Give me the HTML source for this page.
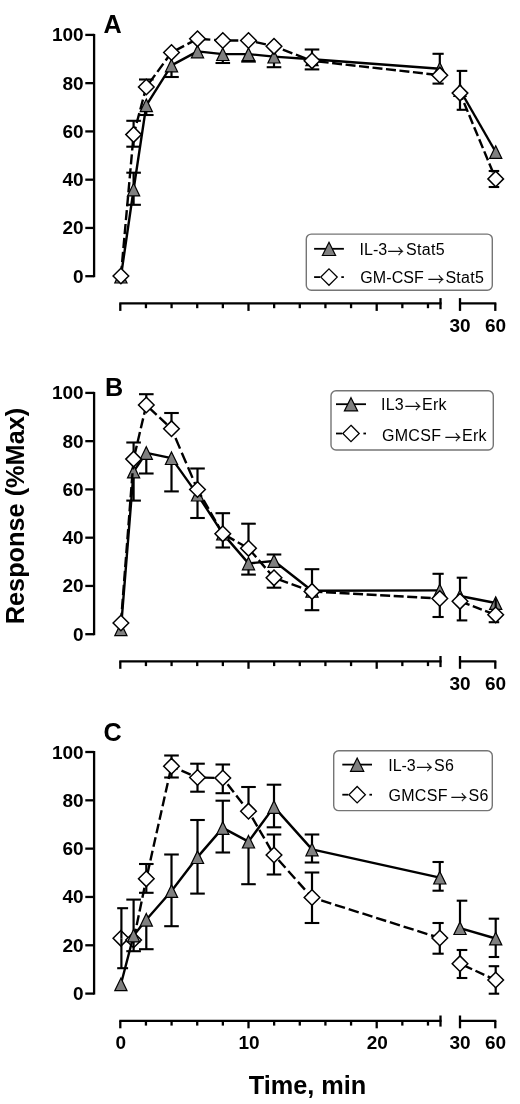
<!DOCTYPE html>
<html lang="en"><head><meta charset="utf-8"><title>Response time course</title>
<style>html,body{margin:0;padding:0;background:#fff}svg{display:block;will-change:transform}text{font-family:'Liberation Sans', Arial, Helvetica, sans-serif;fill:#000}</style>
</head><body>
<svg width="520" height="1104" viewBox="0 0 520 1104">
<rect width="520" height="1104" fill="#fff"/>
<line x1="94.1" y1="33.9" x2="94.1" y2="277.2" stroke="#000" stroke-width="2.3"/>
<line x1="85.3" y1="276.20" x2="94.1" y2="276.20" stroke="#000" stroke-width="2.3"/>
<text x="83.6" y="282.70" text-anchor="end" font-size="19" font-weight="bold">0</text>
<line x1="85.3" y1="227.94" x2="94.1" y2="227.94" stroke="#000" stroke-width="2.3"/>
<text x="83.6" y="234.44" text-anchor="end" font-size="19" font-weight="bold">20</text>
<line x1="85.3" y1="179.68" x2="94.1" y2="179.68" stroke="#000" stroke-width="2.3"/>
<text x="83.6" y="186.18" text-anchor="end" font-size="19" font-weight="bold">40</text>
<line x1="85.3" y1="131.42" x2="94.1" y2="131.42" stroke="#000" stroke-width="2.3"/>
<text x="83.6" y="137.92" text-anchor="end" font-size="19" font-weight="bold">60</text>
<line x1="85.3" y1="83.16" x2="94.1" y2="83.16" stroke="#000" stroke-width="2.3"/>
<text x="83.6" y="89.66" text-anchor="end" font-size="19" font-weight="bold">80</text>
<line x1="85.3" y1="34.90" x2="94.1" y2="34.90" stroke="#000" stroke-width="2.3"/>
<text x="83.6" y="41.40" text-anchor="end" font-size="19" font-weight="bold">100</text>
<line x1="119.3" y1="303.4" x2="441.5" y2="303.4" stroke="#000" stroke-width="2.3"/>
<line x1="120.30" y1="303.4" x2="120.30" y2="310.9" stroke="#000" stroke-width="2.3"/>
<line x1="145.94" y1="303.4" x2="145.94" y2="308.2" stroke="#000" stroke-width="2.3"/>
<line x1="171.58" y1="303.4" x2="171.58" y2="308.2" stroke="#000" stroke-width="2.3"/>
<line x1="197.22" y1="303.4" x2="197.22" y2="308.2" stroke="#000" stroke-width="2.3"/>
<line x1="222.86" y1="303.4" x2="222.86" y2="308.2" stroke="#000" stroke-width="2.3"/>
<line x1="248.50" y1="303.4" x2="248.50" y2="310.9" stroke="#000" stroke-width="2.3"/>
<line x1="274.14" y1="303.4" x2="274.14" y2="308.2" stroke="#000" stroke-width="2.3"/>
<line x1="299.78" y1="303.4" x2="299.78" y2="308.2" stroke="#000" stroke-width="2.3"/>
<line x1="325.42" y1="303.4" x2="325.42" y2="308.2" stroke="#000" stroke-width="2.3"/>
<line x1="351.06" y1="303.4" x2="351.06" y2="308.2" stroke="#000" stroke-width="2.3"/>
<line x1="376.70" y1="303.4" x2="376.70" y2="310.9" stroke="#000" stroke-width="2.3"/>
<line x1="402.34" y1="303.4" x2="402.34" y2="308.2" stroke="#000" stroke-width="2.3"/>
<line x1="427.98" y1="303.4" x2="427.98" y2="308.2" stroke="#000" stroke-width="2.3"/>
<line x1="440.5" y1="298.09999999999997" x2="440.5" y2="309.2" stroke="#000" stroke-width="2.3"/>
<line x1="459" y1="303.4" x2="496.3" y2="303.4" stroke="#000" stroke-width="2.3"/>
<line x1="460" y1="298.09999999999997" x2="460" y2="310.9" stroke="#000" stroke-width="2.3"/>
<line x1="495.3" y1="303.4" x2="495.3" y2="310.9" stroke="#000" stroke-width="2.3"/>
<text x="460" y="331.79999999999995" text-anchor="middle" font-size="19" font-weight="bold">30</text>
<text x="495.5" y="331.79999999999995" text-anchor="middle" font-size="19" font-weight="bold">60</text>
<text x="103.6" y="33.0" font-size="25.2" font-weight="bold">A</text>
<polyline points="120.90,276.60 133.60,189.50 146.30,105.30 171.50,65.40 197.50,51.40 222.80,54.10 248.50,54.10 274.00,56.60 312.00,59.30 439.80,68.80" fill="none" stroke="#000" stroke-width="2.4" stroke-linejoin="round"/>
<polyline points="460.00,90.00 495.70,152.00" fill="none" stroke="#000" stroke-width="2.4" stroke-linejoin="round"/>
<line x1="133.60" y1="172.70" x2="133.60" y2="189.50" stroke="#000" stroke-width="2.2"/><line x1="126.30" y1="172.70" x2="140.90" y2="172.70" stroke="#000" stroke-width="2.1"/>
<line x1="133.60" y1="204.80" x2="133.60" y2="189.50" stroke="#000" stroke-width="2.2"/><line x1="126.30" y1="204.80" x2="140.90" y2="204.80" stroke="#000" stroke-width="2.1"/>
<line x1="146.30" y1="115.00" x2="146.30" y2="105.30" stroke="#000" stroke-width="2.2"/><line x1="139.00" y1="115.00" x2="153.60" y2="115.00" stroke="#000" stroke-width="2.1"/>
<line x1="171.50" y1="77.00" x2="171.50" y2="65.40" stroke="#000" stroke-width="2.2"/><line x1="164.20" y1="77.00" x2="178.80" y2="77.00" stroke="#000" stroke-width="2.1"/>
<line x1="222.80" y1="63.00" x2="222.80" y2="54.10" stroke="#000" stroke-width="2.2"/><line x1="215.50" y1="63.00" x2="230.10" y2="63.00" stroke="#000" stroke-width="2.1"/>
<line x1="248.50" y1="61.60" x2="248.50" y2="54.10" stroke="#000" stroke-width="2.2"/><line x1="241.20" y1="61.60" x2="255.80" y2="61.60" stroke="#000" stroke-width="2.1"/>
<line x1="274.00" y1="67.20" x2="274.00" y2="56.60" stroke="#000" stroke-width="2.2"/><line x1="266.70" y1="67.20" x2="281.30" y2="67.20" stroke="#000" stroke-width="2.1"/>
<line x1="312.00" y1="49.50" x2="312.00" y2="59.30" stroke="#000" stroke-width="2.2"/><line x1="304.70" y1="49.50" x2="319.30" y2="49.50" stroke="#000" stroke-width="2.1"/>
<line x1="312.00" y1="69.40" x2="312.00" y2="59.30" stroke="#000" stroke-width="2.2"/><line x1="304.70" y1="69.40" x2="319.30" y2="69.40" stroke="#000" stroke-width="2.1"/>
<line x1="439.80" y1="53.80" x2="439.80" y2="68.80" stroke="#000" stroke-width="2.2"/><line x1="432.50" y1="53.80" x2="443.70" y2="53.80" stroke="#000" stroke-width="2.1"/>
<line x1="460.00" y1="70.90" x2="460.00" y2="90.00" stroke="#000" stroke-width="2.2"/><line x1="456.70" y1="70.90" x2="467.30" y2="70.90" stroke="#000" stroke-width="2.1"/>
<line x1="460.00" y1="109.80" x2="460.00" y2="90.00" stroke="#000" stroke-width="2.2"/><line x1="456.70" y1="109.80" x2="467.30" y2="109.80" stroke="#000" stroke-width="2.1"/>
<polygon points="120.90,270.40 127.00,283.00 114.80,283.00" fill="#808080" stroke="#000" stroke-width="1.2" stroke-linejoin="miter"/>
<polygon points="133.60,183.30 139.70,195.90 127.50,195.90" fill="#808080" stroke="#000" stroke-width="1.2" stroke-linejoin="miter"/>
<polygon points="146.30,99.10 152.40,111.70 140.20,111.70" fill="#808080" stroke="#000" stroke-width="1.2" stroke-linejoin="miter"/>
<polygon points="171.50,59.20 177.60,71.80 165.40,71.80" fill="#808080" stroke="#000" stroke-width="1.2" stroke-linejoin="miter"/>
<polygon points="197.50,45.20 203.60,57.80 191.40,57.80" fill="#808080" stroke="#000" stroke-width="1.2" stroke-linejoin="miter"/>
<polygon points="222.80,47.90 228.90,60.50 216.70,60.50" fill="#808080" stroke="#000" stroke-width="1.2" stroke-linejoin="miter"/>
<polygon points="248.50,47.90 254.60,60.50 242.40,60.50" fill="#808080" stroke="#000" stroke-width="1.2" stroke-linejoin="miter"/>
<polygon points="274.00,50.40 280.10,63.00 267.90,63.00" fill="#808080" stroke="#000" stroke-width="1.2" stroke-linejoin="miter"/>
<polygon points="312.00,53.10 318.10,65.70 305.90,65.70" fill="#808080" stroke="#000" stroke-width="1.2" stroke-linejoin="miter"/>
<polygon points="439.80,62.60 445.90,75.20 433.70,75.20" fill="#808080" stroke="#000" stroke-width="1.2" stroke-linejoin="miter"/>
<polygon points="460.00,83.80 466.10,96.40 453.90,96.40" fill="#808080" stroke="#000" stroke-width="1.2" stroke-linejoin="miter"/>
<polygon points="495.70,145.80 501.80,158.40 489.60,158.40" fill="#808080" stroke="#000" stroke-width="1.2" stroke-linejoin="miter"/>
<line x1="120.90" y1="276.00" x2="133.60" y2="134.60" stroke="#000" stroke-width="2.4" stroke-dasharray="10.2 3.8" stroke-dashoffset="0.00"/><line x1="133.60" y1="134.60" x2="146.30" y2="87.00" stroke="#000" stroke-width="2.4" stroke-dasharray="10.2 3.8" stroke-dashoffset="1.97"/><line x1="146.30" y1="87.00" x2="171.50" y2="52.50" stroke="#000" stroke-width="2.4" stroke-dasharray="10.2 3.8" stroke-dashoffset="9.23"/><line x1="171.50" y1="52.50" x2="197.50" y2="38.80" stroke="#000" stroke-width="2.4" stroke-dasharray="10.2 3.8" stroke-dashoffset="9.96"/><line x1="197.50" y1="38.80" x2="222.80" y2="40.50" stroke="#000" stroke-width="2.4" stroke-dasharray="10.2 3.8" stroke-dashoffset="11.35"/><line x1="222.80" y1="40.50" x2="248.50" y2="40.50" stroke="#000" stroke-width="2.4" stroke-dasharray="10.2 3.8" stroke-dashoffset="8.70"/><line x1="248.50" y1="40.50" x2="274.00" y2="46.30" stroke="#000" stroke-width="2.4" stroke-dasharray="10.2 3.8" stroke-dashoffset="6.40"/><line x1="274.00" y1="46.30" x2="312.00" y2="60.80" stroke="#000" stroke-width="2.4" stroke-dasharray="10.2 3.8" stroke-dashoffset="4.55"/><line x1="312.00" y1="60.80" x2="439.80" y2="75.20" stroke="#000" stroke-width="2.4" stroke-dasharray="10 3.55" stroke-dashoffset="6.85"/>
<line x1="460.00" y1="93.10" x2="495.70" y2="178.90" stroke="#000" stroke-width="2.4" stroke-dasharray="9.6 3.5" stroke-dashoffset="2.40"/>
<line x1="133.60" y1="120.80" x2="133.60" y2="134.60" stroke="#000" stroke-width="2.2"/><line x1="126.30" y1="120.80" x2="140.90" y2="120.80" stroke="#000" stroke-width="2.1"/>
<line x1="133.60" y1="146.70" x2="133.60" y2="134.60" stroke="#000" stroke-width="2.2"/><line x1="126.30" y1="146.70" x2="140.90" y2="146.70" stroke="#000" stroke-width="2.1"/>
<line x1="146.30" y1="79.50" x2="146.30" y2="87.00" stroke="#000" stroke-width="2.2"/><line x1="139.00" y1="79.50" x2="153.60" y2="79.50" stroke="#000" stroke-width="2.1"/>
<line x1="439.80" y1="83.60" x2="439.80" y2="75.20" stroke="#000" stroke-width="2.2"/><line x1="432.50" y1="83.60" x2="443.70" y2="83.60" stroke="#000" stroke-width="2.1"/>
<line x1="495.70" y1="171.00" x2="495.70" y2="178.90" stroke="#000" stroke-width="2.2"/><line x1="488.70" y1="171.00" x2="499.20" y2="171.00" stroke="#000" stroke-width="2.1"/>
<line x1="495.70" y1="187.00" x2="495.70" y2="178.90" stroke="#000" stroke-width="2.2"/><line x1="488.70" y1="187.00" x2="499.20" y2="187.00" stroke="#000" stroke-width="2.1"/>
<polygon points="120.90,268.20 128.70,276.00 120.90,283.80 113.10,276.00" fill="#fff" stroke="#000" stroke-width="1.5" stroke-linejoin="miter"/>
<polygon points="133.60,126.80 141.40,134.60 133.60,142.40 125.80,134.60" fill="#fff" stroke="#000" stroke-width="1.5" stroke-linejoin="miter"/>
<polygon points="146.30,79.20 154.10,87.00 146.30,94.80 138.50,87.00" fill="#fff" stroke="#000" stroke-width="1.5" stroke-linejoin="miter"/>
<polygon points="171.50,44.70 179.30,52.50 171.50,60.30 163.70,52.50" fill="#fff" stroke="#000" stroke-width="1.5" stroke-linejoin="miter"/>
<polygon points="197.50,31.00 205.30,38.80 197.50,46.60 189.70,38.80" fill="#fff" stroke="#000" stroke-width="1.5" stroke-linejoin="miter"/>
<polygon points="222.80,32.70 230.60,40.50 222.80,48.30 215.00,40.50" fill="#fff" stroke="#000" stroke-width="1.5" stroke-linejoin="miter"/>
<polygon points="248.50,32.70 256.30,40.50 248.50,48.30 240.70,40.50" fill="#fff" stroke="#000" stroke-width="1.5" stroke-linejoin="miter"/>
<polygon points="274.00,38.50 281.80,46.30 274.00,54.10 266.20,46.30" fill="#fff" stroke="#000" stroke-width="1.5" stroke-linejoin="miter"/>
<polygon points="312.00,53.00 319.80,60.80 312.00,68.60 304.20,60.80" fill="#fff" stroke="#000" stroke-width="1.5" stroke-linejoin="miter"/>
<polygon points="439.80,67.40 447.60,75.20 439.80,83.00 432.00,75.20" fill="#fff" stroke="#000" stroke-width="1.5" stroke-linejoin="miter"/>
<polygon points="460.00,85.30 467.80,93.10 460.00,100.90 452.20,93.10" fill="#fff" stroke="#000" stroke-width="1.5" stroke-linejoin="miter"/>
<polygon points="495.70,171.10 503.50,178.90 495.70,186.70 487.90,178.90" fill="#fff" stroke="#000" stroke-width="1.5" stroke-linejoin="miter"/>
<rect x="306.3" y="234.1" width="186.0" height="56.20000000000002" rx="5" ry="5" fill="#fff" stroke="#757575" stroke-width="1.4"/>
<line x1="314.1" y1="248.8" x2="343.9" y2="248.8" stroke="#000" stroke-width="1.8"/>
<polygon points="329.00,242.30 335.60,255.50 322.40,255.50" fill="#808080" stroke="#000" stroke-width="1.2" stroke-linejoin="miter"/>
<line x1="314.1" y1="277.1" x2="320.1" y2="277.1" stroke="#000" stroke-width="1.8"/>
<line x1="341.29999999999995" y1="277.1" x2="343.9" y2="277.1" stroke="#000" stroke-width="1.8"/>
<polygon points="329.00,268.90 337.20,277.10 329.00,285.30 320.80,277.10" fill="#fff" stroke="#000" stroke-width="1.3" stroke-linejoin="miter"/>
<text y="255" font-size="16" letter-spacing="0.3"><tspan x="359.6" letter-spacing="0">IL-3</tspan><tspan x="387.8" dy="1.8" font-family="'Noto Serif CJK SC',serif" font-size="16" stroke="#000" stroke-width="0.35" letter-spacing="0">→</tspan><tspan x="406.0" dy="-1.8">Stat5</tspan></text>
<text y="282.9" font-size="16" letter-spacing="0.3"><tspan x="360.3" letter-spacing="0.1">GM-CSF</tspan><tspan x="428" dy="1.8" font-family="'Noto Serif CJK SC',serif" font-size="16" stroke="#000" stroke-width="0.35" letter-spacing="0">→</tspan><tspan x="445.4" dy="-1.8">Stat5</tspan></text>
<line x1="94.1" y1="391.9" x2="94.1" y2="635.2" stroke="#000" stroke-width="2.3"/>
<line x1="85.3" y1="634.20" x2="94.1" y2="634.20" stroke="#000" stroke-width="2.3"/>
<text x="83.6" y="640.70" text-anchor="end" font-size="19" font-weight="bold">0</text>
<line x1="85.3" y1="585.94" x2="94.1" y2="585.94" stroke="#000" stroke-width="2.3"/>
<text x="83.6" y="592.44" text-anchor="end" font-size="19" font-weight="bold">20</text>
<line x1="85.3" y1="537.68" x2="94.1" y2="537.68" stroke="#000" stroke-width="2.3"/>
<text x="83.6" y="544.18" text-anchor="end" font-size="19" font-weight="bold">40</text>
<line x1="85.3" y1="489.42" x2="94.1" y2="489.42" stroke="#000" stroke-width="2.3"/>
<text x="83.6" y="495.92" text-anchor="end" font-size="19" font-weight="bold">60</text>
<line x1="85.3" y1="441.16" x2="94.1" y2="441.16" stroke="#000" stroke-width="2.3"/>
<text x="83.6" y="447.66" text-anchor="end" font-size="19" font-weight="bold">80</text>
<line x1="85.3" y1="392.90" x2="94.1" y2="392.90" stroke="#000" stroke-width="2.3"/>
<text x="83.6" y="399.40" text-anchor="end" font-size="19" font-weight="bold">100</text>
<line x1="119.3" y1="661.3" x2="441.5" y2="661.3" stroke="#000" stroke-width="2.3"/>
<line x1="120.30" y1="661.3" x2="120.30" y2="668.8" stroke="#000" stroke-width="2.3"/>
<line x1="145.94" y1="661.3" x2="145.94" y2="666.0999999999999" stroke="#000" stroke-width="2.3"/>
<line x1="171.58" y1="661.3" x2="171.58" y2="666.0999999999999" stroke="#000" stroke-width="2.3"/>
<line x1="197.22" y1="661.3" x2="197.22" y2="666.0999999999999" stroke="#000" stroke-width="2.3"/>
<line x1="222.86" y1="661.3" x2="222.86" y2="666.0999999999999" stroke="#000" stroke-width="2.3"/>
<line x1="248.50" y1="661.3" x2="248.50" y2="668.8" stroke="#000" stroke-width="2.3"/>
<line x1="274.14" y1="661.3" x2="274.14" y2="666.0999999999999" stroke="#000" stroke-width="2.3"/>
<line x1="299.78" y1="661.3" x2="299.78" y2="666.0999999999999" stroke="#000" stroke-width="2.3"/>
<line x1="325.42" y1="661.3" x2="325.42" y2="666.0999999999999" stroke="#000" stroke-width="2.3"/>
<line x1="351.06" y1="661.3" x2="351.06" y2="666.0999999999999" stroke="#000" stroke-width="2.3"/>
<line x1="376.70" y1="661.3" x2="376.70" y2="668.8" stroke="#000" stroke-width="2.3"/>
<line x1="402.34" y1="661.3" x2="402.34" y2="666.0999999999999" stroke="#000" stroke-width="2.3"/>
<line x1="427.98" y1="661.3" x2="427.98" y2="666.0999999999999" stroke="#000" stroke-width="2.3"/>
<line x1="440.5" y1="656.0" x2="440.5" y2="667.0999999999999" stroke="#000" stroke-width="2.3"/>
<line x1="459" y1="661.3" x2="496.3" y2="661.3" stroke="#000" stroke-width="2.3"/>
<line x1="460" y1="656.0" x2="460" y2="668.8" stroke="#000" stroke-width="2.3"/>
<line x1="495.3" y1="661.3" x2="495.3" y2="668.8" stroke="#000" stroke-width="2.3"/>
<text x="460" y="689.6999999999999" text-anchor="middle" font-size="19" font-weight="bold">30</text>
<text x="495.5" y="689.6999999999999" text-anchor="middle" font-size="19" font-weight="bold">60</text>
<text x="105.0" y="395.7" font-size="25.2" font-weight="bold">B</text>
<polyline points="120.90,629.30 133.60,471.50 146.30,452.90 171.50,458.10 197.50,494.60 222.80,533.60 248.50,563.40 274.00,561.00 312.00,590.80 439.80,590.40" fill="none" stroke="#000" stroke-width="2.4" stroke-linejoin="round"/>
<polyline points="460.00,596.00 495.70,603.00" fill="none" stroke="#000" stroke-width="2.4" stroke-linejoin="round"/>
<line x1="133.60" y1="500.60" x2="133.60" y2="471.50" stroke="#000" stroke-width="2.2"/><line x1="126.30" y1="500.60" x2="140.90" y2="500.60" stroke="#000" stroke-width="2.1"/>
<line x1="146.30" y1="473.50" x2="146.30" y2="452.90" stroke="#000" stroke-width="2.2"/><line x1="139.00" y1="473.50" x2="153.60" y2="473.50" stroke="#000" stroke-width="2.1"/>
<line x1="171.50" y1="491.40" x2="171.50" y2="458.10" stroke="#000" stroke-width="2.2"/><line x1="164.20" y1="491.40" x2="178.80" y2="491.40" stroke="#000" stroke-width="2.1"/>
<line x1="197.50" y1="518.00" x2="197.50" y2="494.60" stroke="#000" stroke-width="2.2"/><line x1="190.20" y1="518.00" x2="204.80" y2="518.00" stroke="#000" stroke-width="2.1"/>
<line x1="222.80" y1="547.50" x2="222.80" y2="533.60" stroke="#000" stroke-width="2.2"/><line x1="215.50" y1="547.50" x2="230.10" y2="547.50" stroke="#000" stroke-width="2.1"/>
<line x1="248.50" y1="574.60" x2="248.50" y2="563.40" stroke="#000" stroke-width="2.2"/><line x1="241.20" y1="574.60" x2="255.80" y2="574.60" stroke="#000" stroke-width="2.1"/>
<line x1="274.00" y1="554.50" x2="274.00" y2="561.00" stroke="#000" stroke-width="2.2"/><line x1="266.70" y1="554.50" x2="281.30" y2="554.50" stroke="#000" stroke-width="2.1"/>
<line x1="312.00" y1="569.20" x2="312.00" y2="590.80" stroke="#000" stroke-width="2.2"/><line x1="304.70" y1="569.20" x2="319.30" y2="569.20" stroke="#000" stroke-width="2.1"/>
<line x1="312.00" y1="610.20" x2="312.00" y2="590.80" stroke="#000" stroke-width="2.2"/><line x1="304.70" y1="610.20" x2="319.30" y2="610.20" stroke="#000" stroke-width="2.1"/>
<line x1="439.80" y1="573.80" x2="439.80" y2="590.40" stroke="#000" stroke-width="2.2"/><line x1="432.50" y1="573.80" x2="443.70" y2="573.80" stroke="#000" stroke-width="2.1"/>
<line x1="460.00" y1="577.70" x2="460.00" y2="596.00" stroke="#000" stroke-width="2.2"/><line x1="456.70" y1="577.70" x2="467.30" y2="577.70" stroke="#000" stroke-width="2.1"/>
<polygon points="120.90,623.10 127.00,635.70 114.80,635.70" fill="#808080" stroke="#000" stroke-width="1.2" stroke-linejoin="miter"/>
<polygon points="133.60,465.30 139.70,477.90 127.50,477.90" fill="#808080" stroke="#000" stroke-width="1.2" stroke-linejoin="miter"/>
<polygon points="146.30,446.70 152.40,459.30 140.20,459.30" fill="#808080" stroke="#000" stroke-width="1.2" stroke-linejoin="miter"/>
<polygon points="171.50,451.90 177.60,464.50 165.40,464.50" fill="#808080" stroke="#000" stroke-width="1.2" stroke-linejoin="miter"/>
<polygon points="197.50,488.40 203.60,501.00 191.40,501.00" fill="#808080" stroke="#000" stroke-width="1.2" stroke-linejoin="miter"/>
<polygon points="222.80,527.40 228.90,540.00 216.70,540.00" fill="#808080" stroke="#000" stroke-width="1.2" stroke-linejoin="miter"/>
<polygon points="248.50,557.20 254.60,569.80 242.40,569.80" fill="#808080" stroke="#000" stroke-width="1.2" stroke-linejoin="miter"/>
<polygon points="274.00,554.80 280.10,567.40 267.90,567.40" fill="#808080" stroke="#000" stroke-width="1.2" stroke-linejoin="miter"/>
<polygon points="312.00,584.60 318.10,597.20 305.90,597.20" fill="#808080" stroke="#000" stroke-width="1.2" stroke-linejoin="miter"/>
<polygon points="439.80,584.20 445.90,596.80 433.70,596.80" fill="#808080" stroke="#000" stroke-width="1.2" stroke-linejoin="miter"/>
<polygon points="460.00,589.80 466.10,602.40 453.90,602.40" fill="#808080" stroke="#000" stroke-width="1.2" stroke-linejoin="miter"/>
<polygon points="495.70,596.80 501.80,609.40 489.60,609.40" fill="#808080" stroke="#000" stroke-width="1.2" stroke-linejoin="miter"/>
<line x1="120.90" y1="623.00" x2="133.60" y2="459.10" stroke="#000" stroke-width="2.4" stroke-dasharray="10.2 3.8" stroke-dashoffset="0.00"/><line x1="133.60" y1="459.10" x2="146.30" y2="405.00" stroke="#000" stroke-width="2.4" stroke-dasharray="10.2 3.8" stroke-dashoffset="10.39"/><line x1="146.30" y1="405.00" x2="171.50" y2="428.70" stroke="#000" stroke-width="2.4" stroke-dasharray="10.2 3.8" stroke-dashoffset="9.96"/><line x1="171.50" y1="428.70" x2="197.50" y2="489.50" stroke="#000" stroke-width="2.4" stroke-dasharray="11.5 4.4" stroke-dashoffset="5.70"/><line x1="197.50" y1="489.50" x2="222.80" y2="533.80" stroke="#000" stroke-width="2.4" stroke-dasharray="10.2 3.8" stroke-dashoffset="1.83"/><line x1="222.80" y1="533.80" x2="248.50" y2="548.30" stroke="#000" stroke-width="2.4" stroke-dasharray="10.2 3.8" stroke-dashoffset="10.84"/><line x1="248.50" y1="548.30" x2="274.00" y2="577.80" stroke="#000" stroke-width="2.4" stroke-dasharray="10.2 3.8" stroke-dashoffset="12.35"/><line x1="274.00" y1="577.80" x2="312.00" y2="591.40" stroke="#000" stroke-width="2.4" stroke-dasharray="10.2 3.8" stroke-dashoffset="9.34"/><line x1="312.00" y1="591.40" x2="439.80" y2="598.50" stroke="#000" stroke-width="2.4" stroke-dasharray="10 3.55" stroke-dashoffset="13.05"/>
<line x1="460.00" y1="601.30" x2="495.70" y2="614.80" stroke="#000" stroke-width="2.4" stroke-dasharray="9.6 3.5" stroke-dashoffset="12.50"/>
<line x1="133.60" y1="442.50" x2="133.60" y2="459.10" stroke="#000" stroke-width="2.2"/><line x1="126.30" y1="442.50" x2="140.90" y2="442.50" stroke="#000" stroke-width="2.1"/>
<line x1="146.30" y1="394.20" x2="146.30" y2="405.00" stroke="#000" stroke-width="2.2"/><line x1="139.00" y1="394.20" x2="153.60" y2="394.20" stroke="#000" stroke-width="2.1"/>
<line x1="171.50" y1="413.00" x2="171.50" y2="428.70" stroke="#000" stroke-width="2.2"/><line x1="164.20" y1="413.00" x2="178.80" y2="413.00" stroke="#000" stroke-width="2.1"/>
<line x1="197.50" y1="468.50" x2="197.50" y2="489.50" stroke="#000" stroke-width="2.2"/><line x1="190.20" y1="468.50" x2="204.80" y2="468.50" stroke="#000" stroke-width="2.1"/>
<line x1="222.80" y1="513.20" x2="222.80" y2="533.80" stroke="#000" stroke-width="2.2"/><line x1="215.50" y1="513.20" x2="230.10" y2="513.20" stroke="#000" stroke-width="2.1"/>
<line x1="248.50" y1="523.70" x2="248.50" y2="548.30" stroke="#000" stroke-width="2.2"/><line x1="241.20" y1="523.70" x2="255.80" y2="523.70" stroke="#000" stroke-width="2.1"/>
<line x1="274.00" y1="587.70" x2="274.00" y2="577.80" stroke="#000" stroke-width="2.2"/><line x1="266.70" y1="587.70" x2="281.30" y2="587.70" stroke="#000" stroke-width="2.1"/>
<line x1="439.80" y1="617.00" x2="439.80" y2="598.50" stroke="#000" stroke-width="2.2"/><line x1="432.50" y1="617.00" x2="443.70" y2="617.00" stroke="#000" stroke-width="2.1"/>
<line x1="460.00" y1="620.40" x2="460.00" y2="601.30" stroke="#000" stroke-width="2.2"/><line x1="456.70" y1="620.40" x2="467.30" y2="620.40" stroke="#000" stroke-width="2.1"/>
<line x1="495.70" y1="622.20" x2="495.70" y2="614.60" stroke="#000" stroke-width="2.2"/><line x1="488.70" y1="622.20" x2="499.20" y2="622.20" stroke="#000" stroke-width="2.1"/>
<line x1="495.70" y1="598.50" x2="495.70" y2="614.60" stroke="#000" stroke-width="2.2"/><line x1="495.70" y1="598.50" x2="495.70" y2="598.50" stroke="#000" stroke-width="2.1"/>
<polygon points="120.90,615.20 128.70,623.00 120.90,630.80 113.10,623.00" fill="#fff" stroke="#000" stroke-width="1.5" stroke-linejoin="miter"/>
<polygon points="133.60,451.30 141.40,459.10 133.60,466.90 125.80,459.10" fill="#fff" stroke="#000" stroke-width="1.5" stroke-linejoin="miter"/>
<polygon points="146.30,397.20 154.10,405.00 146.30,412.80 138.50,405.00" fill="#fff" stroke="#000" stroke-width="1.5" stroke-linejoin="miter"/>
<polygon points="171.50,420.90 179.30,428.70 171.50,436.50 163.70,428.70" fill="#fff" stroke="#000" stroke-width="1.5" stroke-linejoin="miter"/>
<polygon points="197.50,481.70 205.30,489.50 197.50,497.30 189.70,489.50" fill="#fff" stroke="#000" stroke-width="1.5" stroke-linejoin="miter"/>
<polygon points="222.80,526.00 230.60,533.80 222.80,541.60 215.00,533.80" fill="#fff" stroke="#000" stroke-width="1.5" stroke-linejoin="miter"/>
<polygon points="248.50,540.50 256.30,548.30 248.50,556.10 240.70,548.30" fill="#fff" stroke="#000" stroke-width="1.5" stroke-linejoin="miter"/>
<polygon points="274.00,570.00 281.80,577.80 274.00,585.60 266.20,577.80" fill="#fff" stroke="#000" stroke-width="1.5" stroke-linejoin="miter"/>
<polygon points="312.00,583.60 319.80,591.40 312.00,599.20 304.20,591.40" fill="#fff" stroke="#000" stroke-width="1.5" stroke-linejoin="miter"/>
<polygon points="439.80,590.70 447.60,598.50 439.80,606.30 432.00,598.50" fill="#fff" stroke="#000" stroke-width="1.5" stroke-linejoin="miter"/>
<polygon points="460.00,593.50 467.80,601.30 460.00,609.10 452.20,601.30" fill="#fff" stroke="#000" stroke-width="1.5" stroke-linejoin="miter"/>
<polygon points="495.70,607.00 503.50,614.80 495.70,622.60 487.90,614.80" fill="#fff" stroke="#000" stroke-width="1.5" stroke-linejoin="miter"/>
<rect x="331.0" y="390.7" width="162.3" height="59.30000000000001" rx="5" ry="5" fill="#fff" stroke="#757575" stroke-width="1.4"/>
<line x1="336" y1="404.2" x2="366" y2="404.2" stroke="#000" stroke-width="1.8"/>
<polygon points="351.00,397.70 357.60,410.90 344.40,410.90" fill="#808080" stroke="#000" stroke-width="1.2" stroke-linejoin="miter"/>
<line x1="336" y1="433.5" x2="342" y2="433.5" stroke="#000" stroke-width="1.8"/>
<line x1="363.4" y1="433.5" x2="366" y2="433.5" stroke="#000" stroke-width="1.8"/>
<polygon points="351.00,425.30 359.20,433.50 351.00,441.70 342.80,433.50" fill="#fff" stroke="#000" stroke-width="1.3" stroke-linejoin="miter"/>
<text y="410.3" font-size="16" letter-spacing="0.3"><tspan x="380.9" letter-spacing="0.3">IL3</tspan><tspan x="405" dy="1.8" font-family="'Noto Serif CJK SC',serif" font-size="16" stroke="#000" stroke-width="0.35" letter-spacing="0">→</tspan><tspan x="422" dy="-1.8">Erk</tspan></text>
<text y="440.9" font-size="16" letter-spacing="0.3"><tspan x="382" letter-spacing="0.3">GMCSF</tspan><tspan x="445" dy="1.8" font-family="'Noto Serif CJK SC',serif" font-size="16" stroke="#000" stroke-width="0.35" letter-spacing="0">→</tspan><tspan x="462" dy="-1.8">Erk</tspan></text>
<line x1="94.1" y1="751.0" x2="94.1" y2="994.6" stroke="#000" stroke-width="2.3"/>
<line x1="85.3" y1="993.60" x2="94.1" y2="993.60" stroke="#000" stroke-width="2.3"/>
<text x="83.6" y="1000.10" text-anchor="end" font-size="19" font-weight="bold">0</text>
<line x1="85.3" y1="945.28" x2="94.1" y2="945.28" stroke="#000" stroke-width="2.3"/>
<text x="83.6" y="951.78" text-anchor="end" font-size="19" font-weight="bold">20</text>
<line x1="85.3" y1="896.96" x2="94.1" y2="896.96" stroke="#000" stroke-width="2.3"/>
<text x="83.6" y="903.46" text-anchor="end" font-size="19" font-weight="bold">40</text>
<line x1="85.3" y1="848.64" x2="94.1" y2="848.64" stroke="#000" stroke-width="2.3"/>
<text x="83.6" y="855.14" text-anchor="end" font-size="19" font-weight="bold">60</text>
<line x1="85.3" y1="800.32" x2="94.1" y2="800.32" stroke="#000" stroke-width="2.3"/>
<text x="83.6" y="806.82" text-anchor="end" font-size="19" font-weight="bold">80</text>
<line x1="85.3" y1="752.00" x2="94.1" y2="752.00" stroke="#000" stroke-width="2.3"/>
<text x="83.6" y="758.50" text-anchor="end" font-size="19" font-weight="bold">100</text>
<line x1="119.3" y1="1020.8" x2="441.5" y2="1020.8" stroke="#000" stroke-width="2.3"/>
<line x1="120.30" y1="1020.8" x2="120.30" y2="1028.3" stroke="#000" stroke-width="2.3"/>
<line x1="145.94" y1="1020.8" x2="145.94" y2="1025.6" stroke="#000" stroke-width="2.3"/>
<line x1="171.58" y1="1020.8" x2="171.58" y2="1025.6" stroke="#000" stroke-width="2.3"/>
<line x1="197.22" y1="1020.8" x2="197.22" y2="1025.6" stroke="#000" stroke-width="2.3"/>
<line x1="222.86" y1="1020.8" x2="222.86" y2="1025.6" stroke="#000" stroke-width="2.3"/>
<line x1="248.50" y1="1020.8" x2="248.50" y2="1028.3" stroke="#000" stroke-width="2.3"/>
<line x1="274.14" y1="1020.8" x2="274.14" y2="1025.6" stroke="#000" stroke-width="2.3"/>
<line x1="299.78" y1="1020.8" x2="299.78" y2="1025.6" stroke="#000" stroke-width="2.3"/>
<line x1="325.42" y1="1020.8" x2="325.42" y2="1025.6" stroke="#000" stroke-width="2.3"/>
<line x1="351.06" y1="1020.8" x2="351.06" y2="1025.6" stroke="#000" stroke-width="2.3"/>
<line x1="376.70" y1="1020.8" x2="376.70" y2="1028.3" stroke="#000" stroke-width="2.3"/>
<line x1="402.34" y1="1020.8" x2="402.34" y2="1025.6" stroke="#000" stroke-width="2.3"/>
<line x1="427.98" y1="1020.8" x2="427.98" y2="1025.6" stroke="#000" stroke-width="2.3"/>
<line x1="440.5" y1="1015.5" x2="440.5" y2="1026.6" stroke="#000" stroke-width="2.3"/>
<line x1="459" y1="1020.8" x2="496.3" y2="1020.8" stroke="#000" stroke-width="2.3"/>
<line x1="460" y1="1015.5" x2="460" y2="1028.3" stroke="#000" stroke-width="2.3"/>
<line x1="495.3" y1="1020.8" x2="495.3" y2="1028.3" stroke="#000" stroke-width="2.3"/>
<text x="120.80" y="1048.7" text-anchor="middle" font-size="19" font-weight="bold">0</text>
<text x="249.00" y="1048.7" text-anchor="middle" font-size="19" font-weight="bold">10</text>
<text x="377.20" y="1048.7" text-anchor="middle" font-size="19" font-weight="bold">20</text>
<text x="460" y="1048.7" text-anchor="middle" font-size="19" font-weight="bold">30</text>
<text x="495.5" y="1048.7" text-anchor="middle" font-size="19" font-weight="bold">60</text>
<text x="103.4" y="740.7" font-size="25.2" font-weight="bold">C</text>
<line x1="120.90" y1="938.30" x2="133.60" y2="940.00" stroke="#000" stroke-width="2.4" stroke-dasharray="10.2 3.8" stroke-dashoffset="0.00"/><line x1="133.60" y1="940.00" x2="146.30" y2="878.80" stroke="#000" stroke-width="2.4" stroke-dasharray="10.2 3.8" stroke-dashoffset="12.81"/><line x1="146.30" y1="878.80" x2="171.50" y2="766.20" stroke="#000" stroke-width="2.4" stroke-dasharray="9.8 4.1" stroke-dashoffset="8.95"/><line x1="171.50" y1="766.20" x2="197.50" y2="777.50" stroke="#000" stroke-width="2.4" stroke-dasharray="10 4" stroke-dashoffset="3.10"/><line x1="197.50" y1="777.50" x2="222.80" y2="778.00" stroke="#000" stroke-width="2.4" stroke-dasharray="10 4" stroke-dashoffset="7.00"/><line x1="222.80" y1="778.00" x2="248.50" y2="811.20" stroke="#000" stroke-width="2.4" stroke-dasharray="10.2 4" stroke-dashoffset="6.40"/><line x1="248.50" y1="811.20" x2="274.00" y2="855.00" stroke="#000" stroke-width="2.4" stroke-dasharray="10 4" stroke-dashoffset="6.50"/><line x1="274.00" y1="855.00" x2="312.00" y2="897.50" stroke="#000" stroke-width="2.4" stroke-dasharray="10.4 4.2" stroke-dashoffset="7.80"/><line x1="312.00" y1="897.50" x2="439.80" y2="938.00" stroke="#000" stroke-width="2.4" stroke-dasharray="10.5 3.9" stroke-dashoffset="4.70"/>
<line x1="460.00" y1="963.70" x2="495.70" y2="980.00" stroke="#000" stroke-width="2.4" stroke-dasharray="9.7 3.7" stroke-dashoffset="9.80"/>
<line x1="146.30" y1="864.00" x2="146.30" y2="878.80" stroke="#000" stroke-width="2.2"/><line x1="139.00" y1="864.00" x2="153.60" y2="864.00" stroke="#000" stroke-width="2.1"/>
<line x1="146.30" y1="892.80" x2="146.30" y2="878.80" stroke="#000" stroke-width="2.2"/><line x1="139.00" y1="892.80" x2="153.60" y2="892.80" stroke="#000" stroke-width="2.1"/>
<line x1="171.50" y1="755.50" x2="171.50" y2="766.20" stroke="#000" stroke-width="2.2"/><line x1="164.20" y1="755.50" x2="178.80" y2="755.50" stroke="#000" stroke-width="2.1"/>
<line x1="171.50" y1="777.50" x2="171.50" y2="766.20" stroke="#000" stroke-width="2.2"/><line x1="164.20" y1="777.50" x2="178.80" y2="777.50" stroke="#000" stroke-width="2.1"/>
<line x1="197.50" y1="763.70" x2="197.50" y2="777.50" stroke="#000" stroke-width="2.2"/><line x1="190.20" y1="763.70" x2="204.80" y2="763.70" stroke="#000" stroke-width="2.1"/>
<line x1="197.50" y1="791.70" x2="197.50" y2="777.50" stroke="#000" stroke-width="2.2"/><line x1="190.20" y1="791.70" x2="204.80" y2="791.70" stroke="#000" stroke-width="2.1"/>
<line x1="222.80" y1="764.50" x2="222.80" y2="778.00" stroke="#000" stroke-width="2.2"/><line x1="215.50" y1="764.50" x2="230.10" y2="764.50" stroke="#000" stroke-width="2.1"/>
<line x1="222.80" y1="793.20" x2="222.80" y2="778.00" stroke="#000" stroke-width="2.2"/><line x1="215.50" y1="793.20" x2="230.10" y2="793.20" stroke="#000" stroke-width="2.1"/>
<line x1="248.50" y1="787.00" x2="248.50" y2="811.20" stroke="#000" stroke-width="2.2"/><line x1="241.20" y1="787.00" x2="255.80" y2="787.00" stroke="#000" stroke-width="2.1"/>
<line x1="274.00" y1="834.50" x2="274.00" y2="855.00" stroke="#000" stroke-width="2.2"/><line x1="266.70" y1="834.50" x2="281.30" y2="834.50" stroke="#000" stroke-width="2.1"/>
<line x1="274.00" y1="874.50" x2="274.00" y2="855.00" stroke="#000" stroke-width="2.2"/><line x1="266.70" y1="874.50" x2="281.30" y2="874.50" stroke="#000" stroke-width="2.1"/>
<line x1="312.00" y1="872.50" x2="312.00" y2="897.50" stroke="#000" stroke-width="2.2"/><line x1="304.70" y1="872.50" x2="319.30" y2="872.50" stroke="#000" stroke-width="2.1"/>
<line x1="312.00" y1="923.00" x2="312.00" y2="897.50" stroke="#000" stroke-width="2.2"/><line x1="304.70" y1="923.00" x2="319.30" y2="923.00" stroke="#000" stroke-width="2.1"/>
<line x1="439.80" y1="923.00" x2="439.80" y2="938.00" stroke="#000" stroke-width="2.2"/><line x1="432.50" y1="923.00" x2="443.70" y2="923.00" stroke="#000" stroke-width="2.1"/>
<line x1="439.80" y1="953.70" x2="439.80" y2="938.00" stroke="#000" stroke-width="2.2"/><line x1="432.50" y1="953.70" x2="443.70" y2="953.70" stroke="#000" stroke-width="2.1"/>
<line x1="460.00" y1="950.00" x2="460.00" y2="963.70" stroke="#000" stroke-width="2.2"/><line x1="456.70" y1="950.00" x2="467.30" y2="950.00" stroke="#000" stroke-width="2.1"/>
<line x1="460.00" y1="978.00" x2="460.00" y2="963.70" stroke="#000" stroke-width="2.2"/><line x1="456.70" y1="978.00" x2="467.30" y2="978.00" stroke="#000" stroke-width="2.1"/>
<line x1="495.70" y1="966.20" x2="495.70" y2="980.00" stroke="#000" stroke-width="2.2"/><line x1="488.70" y1="966.20" x2="499.20" y2="966.20" stroke="#000" stroke-width="2.1"/>
<line x1="495.70" y1="993.70" x2="495.70" y2="980.00" stroke="#000" stroke-width="2.2"/><line x1="488.70" y1="993.70" x2="499.20" y2="993.70" stroke="#000" stroke-width="2.1"/>
<polygon points="120.90,930.50 128.70,938.30 120.90,946.10 113.10,938.30" fill="#fff" stroke="#000" stroke-width="1.5" stroke-linejoin="miter"/>
<polygon points="133.60,932.20 141.40,940.00 133.60,947.80 125.80,940.00" fill="#fff" stroke="#000" stroke-width="1.5" stroke-linejoin="miter"/>
<polygon points="146.30,871.00 154.10,878.80 146.30,886.60 138.50,878.80" fill="#fff" stroke="#000" stroke-width="1.5" stroke-linejoin="miter"/>
<polygon points="171.50,758.40 179.30,766.20 171.50,774.00 163.70,766.20" fill="#fff" stroke="#000" stroke-width="1.5" stroke-linejoin="miter"/>
<polygon points="197.50,769.70 205.30,777.50 197.50,785.30 189.70,777.50" fill="#fff" stroke="#000" stroke-width="1.5" stroke-linejoin="miter"/>
<polygon points="222.80,770.20 230.60,778.00 222.80,785.80 215.00,778.00" fill="#fff" stroke="#000" stroke-width="1.5" stroke-linejoin="miter"/>
<polygon points="248.50,803.40 256.30,811.20 248.50,819.00 240.70,811.20" fill="#fff" stroke="#000" stroke-width="1.5" stroke-linejoin="miter"/>
<polygon points="274.00,847.20 281.80,855.00 274.00,862.80 266.20,855.00" fill="#fff" stroke="#000" stroke-width="1.5" stroke-linejoin="miter"/>
<polygon points="312.00,889.70 319.80,897.50 312.00,905.30 304.20,897.50" fill="#fff" stroke="#000" stroke-width="1.5" stroke-linejoin="miter"/>
<polygon points="439.80,930.20 447.60,938.00 439.80,945.80 432.00,938.00" fill="#fff" stroke="#000" stroke-width="1.5" stroke-linejoin="miter"/>
<polygon points="460.00,955.90 467.80,963.70 460.00,971.50 452.20,963.70" fill="#fff" stroke="#000" stroke-width="1.5" stroke-linejoin="miter"/>
<polygon points="495.70,972.20 503.50,980.00 495.70,987.80 487.90,980.00" fill="#fff" stroke="#000" stroke-width="1.5" stroke-linejoin="miter"/>
<polyline points="120.90,984.30 133.60,935.50 146.30,919.70 171.50,891.00 197.50,857.10 222.80,827.90 248.50,841.60 274.00,806.90 312.00,849.40 439.80,877.60" fill="none" stroke="#000" stroke-width="2.4" stroke-linejoin="round"/>
<polyline points="460.00,928.10 495.70,938.50" fill="none" stroke="#000" stroke-width="2.4" stroke-linejoin="round"/>
<line x1="121.40" y1="908.20" x2="121.40" y2="938.30" stroke="#000" stroke-width="2.2"/><line x1="117.20" y1="908.20" x2="128.10" y2="908.20" stroke="#000" stroke-width="2.1"/>
<line x1="121.40" y1="968.20" x2="121.40" y2="938.30" stroke="#000" stroke-width="2.2"/><line x1="117.20" y1="968.20" x2="128.10" y2="968.20" stroke="#000" stroke-width="2.1"/>
<line x1="133.60" y1="899.60" x2="133.60" y2="935.50" stroke="#000" stroke-width="2.2"/><line x1="126.30" y1="899.60" x2="140.90" y2="899.60" stroke="#000" stroke-width="2.1"/>
<line x1="133.60" y1="951.20" x2="133.60" y2="935.50" stroke="#000" stroke-width="2.2"/><line x1="126.30" y1="951.20" x2="140.90" y2="951.20" stroke="#000" stroke-width="2.1"/>
<line x1="146.30" y1="949.20" x2="146.30" y2="919.70" stroke="#000" stroke-width="2.2"/><line x1="139.00" y1="949.20" x2="153.60" y2="949.20" stroke="#000" stroke-width="2.1"/>
<line x1="171.50" y1="854.50" x2="171.50" y2="891.00" stroke="#000" stroke-width="2.2"/><line x1="164.20" y1="854.50" x2="178.80" y2="854.50" stroke="#000" stroke-width="2.1"/>
<line x1="171.50" y1="926.20" x2="171.50" y2="891.00" stroke="#000" stroke-width="2.2"/><line x1="164.20" y1="926.20" x2="178.80" y2="926.20" stroke="#000" stroke-width="2.1"/>
<line x1="197.50" y1="820.00" x2="197.50" y2="857.10" stroke="#000" stroke-width="2.2"/><line x1="190.20" y1="820.00" x2="204.80" y2="820.00" stroke="#000" stroke-width="2.1"/>
<line x1="197.50" y1="893.60" x2="197.50" y2="857.10" stroke="#000" stroke-width="2.2"/><line x1="190.20" y1="893.60" x2="204.80" y2="893.60" stroke="#000" stroke-width="2.1"/>
<line x1="222.80" y1="800.70" x2="222.80" y2="827.90" stroke="#000" stroke-width="2.2"/><line x1="215.50" y1="800.70" x2="230.10" y2="800.70" stroke="#000" stroke-width="2.1"/>
<line x1="222.80" y1="852.50" x2="222.80" y2="827.90" stroke="#000" stroke-width="2.2"/><line x1="215.50" y1="852.50" x2="230.10" y2="852.50" stroke="#000" stroke-width="2.1"/>
<line x1="248.50" y1="884.20" x2="248.50" y2="841.60" stroke="#000" stroke-width="2.2"/><line x1="241.20" y1="884.20" x2="255.80" y2="884.20" stroke="#000" stroke-width="2.1"/>
<line x1="274.00" y1="784.70" x2="274.00" y2="806.90" stroke="#000" stroke-width="2.2"/><line x1="266.70" y1="784.70" x2="281.30" y2="784.70" stroke="#000" stroke-width="2.1"/>
<line x1="274.00" y1="827.30" x2="274.00" y2="806.90" stroke="#000" stroke-width="2.2"/><line x1="266.70" y1="827.30" x2="281.30" y2="827.30" stroke="#000" stroke-width="2.1"/>
<line x1="312.00" y1="834.50" x2="312.00" y2="849.40" stroke="#000" stroke-width="2.2"/><line x1="304.70" y1="834.50" x2="319.30" y2="834.50" stroke="#000" stroke-width="2.1"/>
<line x1="312.00" y1="862.50" x2="312.00" y2="849.40" stroke="#000" stroke-width="2.2"/><line x1="304.70" y1="862.50" x2="319.30" y2="862.50" stroke="#000" stroke-width="2.1"/>
<line x1="439.80" y1="862.00" x2="439.80" y2="877.60" stroke="#000" stroke-width="2.2"/><line x1="432.50" y1="862.00" x2="443.70" y2="862.00" stroke="#000" stroke-width="2.1"/>
<line x1="439.80" y1="890.70" x2="439.80" y2="877.60" stroke="#000" stroke-width="2.2"/><line x1="432.50" y1="890.70" x2="443.70" y2="890.70" stroke="#000" stroke-width="2.1"/>
<line x1="460.00" y1="900.70" x2="460.00" y2="928.10" stroke="#000" stroke-width="2.2"/><line x1="456.70" y1="900.70" x2="467.30" y2="900.70" stroke="#000" stroke-width="2.1"/>
<line x1="495.70" y1="918.70" x2="495.70" y2="938.50" stroke="#000" stroke-width="2.2"/><line x1="488.70" y1="918.70" x2="499.20" y2="918.70" stroke="#000" stroke-width="2.1"/>
<line x1="495.70" y1="957.00" x2="495.70" y2="938.50" stroke="#000" stroke-width="2.2"/><line x1="488.70" y1="957.00" x2="499.20" y2="957.00" stroke="#000" stroke-width="2.1"/>
<polygon points="120.90,978.10 127.00,990.70 114.80,990.70" fill="#808080" stroke="#000" stroke-width="1.2" stroke-linejoin="miter"/>
<polygon points="133.60,929.30 139.70,941.90 127.50,941.90" fill="#808080" stroke="#000" stroke-width="1.2" stroke-linejoin="miter"/>
<polygon points="146.30,913.50 152.40,926.10 140.20,926.10" fill="#808080" stroke="#000" stroke-width="1.2" stroke-linejoin="miter"/>
<polygon points="171.50,884.80 177.60,897.40 165.40,897.40" fill="#808080" stroke="#000" stroke-width="1.2" stroke-linejoin="miter"/>
<polygon points="197.50,850.90 203.60,863.50 191.40,863.50" fill="#808080" stroke="#000" stroke-width="1.2" stroke-linejoin="miter"/>
<polygon points="222.80,821.70 228.90,834.30 216.70,834.30" fill="#808080" stroke="#000" stroke-width="1.2" stroke-linejoin="miter"/>
<polygon points="248.50,835.40 254.60,848.00 242.40,848.00" fill="#808080" stroke="#000" stroke-width="1.2" stroke-linejoin="miter"/>
<polygon points="274.00,800.70 280.10,813.30 267.90,813.30" fill="#808080" stroke="#000" stroke-width="1.2" stroke-linejoin="miter"/>
<polygon points="312.00,843.20 318.10,855.80 305.90,855.80" fill="#808080" stroke="#000" stroke-width="1.2" stroke-linejoin="miter"/>
<polygon points="439.80,871.40 445.90,884.00 433.70,884.00" fill="#808080" stroke="#000" stroke-width="1.2" stroke-linejoin="miter"/>
<polygon points="460.00,921.90 466.10,934.50 453.90,934.50" fill="#808080" stroke="#000" stroke-width="1.2" stroke-linejoin="miter"/>
<polygon points="495.70,932.30 501.80,944.90 489.60,944.90" fill="#808080" stroke="#000" stroke-width="1.2" stroke-linejoin="miter"/>
<rect x="333.7" y="750.7" width="158.60000000000002" height="59.89999999999998" rx="5" ry="5" fill="#fff" stroke="#757575" stroke-width="1.4"/>
<line x1="342.3" y1="764.6" x2="372" y2="764.6" stroke="#000" stroke-width="1.8"/>
<polygon points="357.15,758.10 363.75,771.30 350.55,771.30" fill="#808080" stroke="#000" stroke-width="1.2" stroke-linejoin="miter"/>
<line x1="342.3" y1="794.7" x2="348.3" y2="794.7" stroke="#000" stroke-width="1.8"/>
<line x1="369.4" y1="794.7" x2="372" y2="794.7" stroke="#000" stroke-width="1.8"/>
<polygon points="357.15,786.50 365.35,794.70 357.15,802.90 348.95,794.70" fill="#fff" stroke="#000" stroke-width="1.3" stroke-linejoin="miter"/>
<text y="771.3" font-size="16" letter-spacing="0.3"><tspan x="388.2" letter-spacing="0">IL-3</tspan><tspan x="416.4" dy="1.8" font-family="'Noto Serif CJK SC',serif" font-size="16" stroke="#000" stroke-width="0.35" letter-spacing="0">→</tspan><tspan x="434" dy="-1.8">S6</tspan></text>
<text y="801.3" font-size="16" letter-spacing="0.3"><tspan x="388.5" letter-spacing="0.3">GMCSF</tspan><tspan x="451" dy="1.8" font-family="'Noto Serif CJK SC',serif" font-size="16" stroke="#000" stroke-width="0.35" letter-spacing="0">→</tspan><tspan x="468.5" dy="-1.8">S6</tspan></text>
<text transform="translate(24.2,516) rotate(-90)" text-anchor="middle" font-size="25.3" font-weight="bold">Response (%Max)</text>
<text x="307.5" y="1094" text-anchor="middle" font-size="25.3" font-weight="bold">Time, min</text>
</svg></body></html>
